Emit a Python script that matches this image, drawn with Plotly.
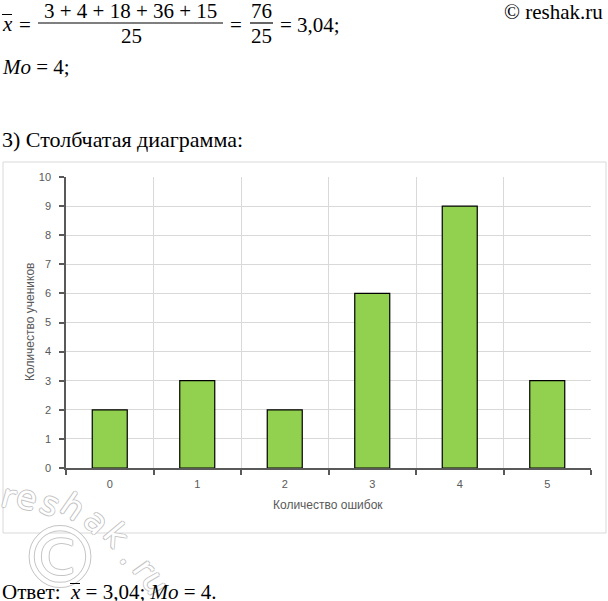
import plotly.graph_objects as go

categories = ["0", "1", "2", "3", "4", "5"]
counts = [2, 3, 2, 6, 9, 3]
y_ticks = list(range(0, 11))

W, H = 608, 601

def px(x):
    return x / W

def py(y):
    return 1 - y / H

fig = go.Figure()
fig.add_trace(go.Bar(
    x=categories, y=counts, width=0.4,
    marker=dict(color="#92D050", line=dict(color="#000000", width=1.2)),
    showlegend=False, hoverinfo="skip",
))

tickfont = dict(family="Liberation Sans, Arial", size=11, color="#595959")
fig.update_layout(
    width=W, height=H,
    margin=dict(l=0, r=0, t=0, b=0, autoexpand=False),
    paper_bgcolor="white", plot_bgcolor="white",
    bargap=0.6,
    xaxis=dict(
        domain=[px(66), px(591)], type="category", tickson="boundaries",
        showgrid=True, gridcolor="#d9d9d9", gridwidth=1, automargin=False,
        showline=True, linecolor="#595959", linewidth=1.5,
        ticks="outside", ticklen=5, tickcolor="#595959", tickwidth=1.5,
        tickfont=tickfont, fixedrange=True, ticklabelstandoff=5,
    ),
    yaxis=dict(
        domain=[1 - 468 / H, 1 - 177 / H], range=[0, 10], tickvals=y_ticks,
        showgrid=True, gridcolor="#d9d9d9", gridwidth=1, automargin=False,
        showline=True, linecolor="#595959", linewidth=1.5,
        ticks="outside", ticklen=5, tickcolor="#595959", tickwidth=1.5,
        tickfont=tickfont, zeroline=False, fixedrange=True, ticklabelstandoff=6,
    ),
)

shapes = []
# chart frame
shapes.append(dict(type="rect", xref="paper", yref="paper",
                   x0=px(3), x1=px(606), y0=py(533), y1=py(162),
                   line=dict(color="#d9d9d9", width=1), layer="below"))
# fraction lines
for x0, x1 in [(38, 223), (250, 273)]:
    shapes.append(dict(type="line", xref="paper", yref="paper",
                       x0=px(x0), x1=px(x1), y0=py(23), y1=py(23),
                       line=dict(color="black", width=1.2)))
fig.update_layout(shapes=shapes)

serif = "Liberation Serif, DejaVu Serif, serif"
def note(text, x, y, size=21, xanchor="left", yanchor="middle", family=serif,
         color="black", angle=0, shadow=None):
    font = dict(family=family, size=size, color=color)
    if shadow:
        font["shadow"] = shadow
    fig.add_annotation(text=text, x=px(x), y=py(y), xref="paper", yref="paper",
                       showarrow=False, xanchor=xanchor, yanchor=yanchor,
                       font=font, textangle=angle)

# watermark (outlined letters along an arc)
outline = ("1px 0 0 #c4c4c4, -1px 0 0 #c4c4c4, 0 1px 0 #c4c4c4, 0 -1px 0 #c4c4c4")
wm_letters = [("r", 9, 496, 15), ("e", 27, 497, 15), ("s", 50, 503, 25),
              ("h", 73, 506, 35), ("a", 97, 521, 45), ("k", 117, 535, 50),
              (".", 131, 556, 55), ("r", 145, 568, 55), ("u", 156, 582, 60)]
for ch, x, y, a in wm_letters:
    note(ch, x, y, size=33, xanchor="center", family="DejaVu Sans",
         color="white", angle=a, shadow=outline)
note("©", 60, 558, size=84, xanchor="center", family="DejaVu Sans",
     color="white", shadow=outline)

note("<i>x</i>", 7, 24, xanchor="center")
note("=", 25, 25, xanchor="center")
note("3 + 4 + 18 + 36 + 15", 130, 11, xanchor="center")
note("25", 131, 36, xanchor="center")
note("=", 236, 25, xanchor="center")
note("76", 261, 11, xanchor="center")
note("25", 261, 36, xanchor="center")
note("= 3,04;", 278, 25)
note("<i>Mo</i> = 4;", 0, 67)
note("© reshak.ru", 605, 12, xanchor="right")
note("3) Столбчатая диаграмма:", 0, 139, size=22)
note("Ответ:&nbsp;&nbsp;<i>x</i> = 3,04; <i>Mo</i> = 4.", 0, 592)

# overlines above x (drawn as thin annotation boxes so they sit above the watermark)
for x0, x1, yy in [(2, 12, 15), (70, 80, 583)]:
    fig.add_annotation(text=" ", x=px((x0 + x1) / 2), y=py(yy), xref="paper", yref="paper",
                       showarrow=False, xanchor="center", yanchor="middle",
                       width=x1 - x0, height=1, bgcolor="black", borderpad=0,
                       borderwidth=0, font=dict(size=1))

sans = "Liberation Sans, Arial, sans-serif"
note("Количество ошибок", 328, 505, size=12, xanchor="center", family=sans, color="#595959")
note("Количество учеников", 30, 322, size=12, xanchor="center", family=sans,
     color="#595959", angle=-90)

fig.write_html("out.html", config={"displayModeBar": False},
               post_script="document.body.style.margin='0';document.body.style.overflow='hidden';")
